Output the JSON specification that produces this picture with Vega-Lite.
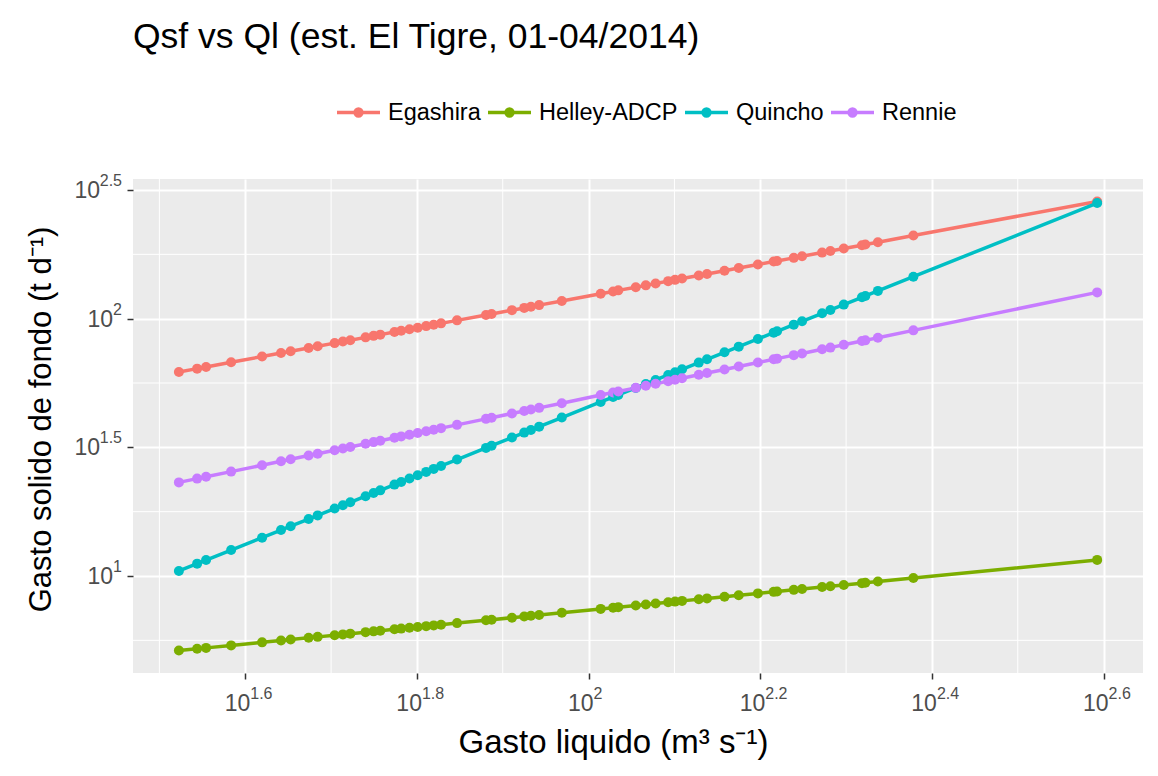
{
  "$schema": "https://vega.github.io/schema/vega-lite/v6.json",
  "width": 1010,
  "height": 494,
  "autosize": {"type": "none"},
  "padding": {"left": 133, "top": 179, "right": 15, "bottom": 103},
  "background": "white",
  "config": {
    "font": "Liberation Sans",
    "view": {"fill": "#EBEBEB", "stroke": null},
    "axis": {
      "domain": false,
      "labels": false,
      "ticks": true,
      "tickColor": "#333333",
      "tickSize": 6,
      "tickWidth": 1.5,
      "grid": true,
      "gridColor": "#FFFFFF",
      "gridWidth": 2,
      "titleFont": "Liberation Sans",
      "titleFontWeight": "normal",
      "titleColor": "#000000"
    },
    "axisX": {"titleFontSize": 33, "titlePadding": 47, "titleX": 480},
    "axisY": {"titleFontSize": 31, "titlePadding": 69, "titleY": 240}
  },
  "title": {
    "text": "Qsf vs Ql (est. El Tigre, 01-04/2014)",
    "anchor": "start",
    "frame": "group",
    "font": "Liberation Sans",
    "fontSize": 35.5,
    "fontWeight": "normal",
    "color": "#000000",
    "offset": 34
  },
  "datasets": {
    "serie": [
      {"Ql": 33.32, "Egashira": 62.03, "Helley-ADCP": 5.132, "Quincho": 10.46, "Rennie": 23.11},
      {"Ql": 34.99, "Egashira": 63.94, "Helley-ADCP": 5.215, "Quincho": 11.17, "Rennie": 23.90},
      {"Ql": 35.84, "Egashira": 64.89, "Helley-ADCP": 5.256, "Quincho": 11.53, "Rennie": 24.30},
      {"Ql": 38.33, "Egashira": 67.66, "Helley-ADCP": 5.374, "Quincho": 12.61, "Rennie": 25.45},
      {"Ql": 41.65, "Egashira": 71.22, "Helley-ADCP": 5.523, "Quincho": 14.09, "Rennie": 26.95},
      {"Ql": 43.82, "Egashira": 73.50, "Helley-ADCP": 5.616, "Quincho": 15.08, "Rennie": 27.91},
      {"Ql": 44.97, "Egashira": 74.70, "Helley-ADCP": 5.665, "Quincho": 15.61, "Rennie": 28.42},
      {"Ql": 47.19, "Egashira": 76.95, "Helley-ADCP": 5.754, "Quincho": 16.65, "Rennie": 29.38},
      {"Ql": 48.35, "Egashira": 78.11, "Helley-ADCP": 5.800, "Quincho": 17.20, "Rennie": 29.87},
      {"Ql": 50.60, "Egashira": 80.35, "Helley-ADCP": 5.888, "Quincho": 18.28, "Rennie": 30.83},
      {"Ql": 51.73, "Egashira": 81.45, "Helley-ADCP": 5.931, "Quincho": 18.83, "Rennie": 31.31},
      {"Ql": 52.77, "Egashira": 82.47, "Helley-ADCP": 5.970, "Quincho": 19.33, "Rennie": 31.74},
      {"Ql": 54.98, "Egashira": 84.59, "Helley-ADCP": 6.051, "Quincho": 20.42, "Rennie": 32.65},
      {"Ql": 56.17, "Egashira": 85.73, "Helley-ADCP": 6.093, "Quincho": 21.01, "Rennie": 33.13},
      {"Ql": 57.19, "Egashira": 86.68, "Helley-ADCP": 6.130, "Quincho": 21.52, "Rennie": 33.55},
      {"Ql": 59.41, "Egashira": 88.76, "Helley-ADCP": 6.209, "Quincho": 22.65, "Rennie": 34.44},
      {"Ql": 60.49, "Egashira": 89.74, "Helley-ADCP": 6.245, "Quincho": 23.20, "Rennie": 34.87},
      {"Ql": 61.85, "Egashira": 90.99, "Helley-ADCP": 6.291, "Quincho": 23.91, "Rennie": 35.41},
      {"Ql": 63.23, "Egashira": 92.26, "Helley-ADCP": 6.338, "Quincho": 24.62, "Rennie": 35.95},
      {"Ql": 64.68, "Egashira": 93.54, "Helley-ADCP": 6.385, "Quincho": 25.38, "Rennie": 36.52},
      {"Ql": 66.00, "Egashira": 94.73, "Helley-ADCP": 6.427, "Quincho": 26.07, "Rennie": 37.03},
      {"Ql": 67.32, "Egashira": 95.89, "Helley-ADCP": 6.469, "Quincho": 26.77, "Rennie": 37.54},
      {"Ql": 70.27, "Egashira": 98.50, "Helley-ADCP": 6.561, "Quincho": 28.35, "Rennie": 38.67},
      {"Ql": 75.94, "Egashira": 103.4, "Helley-ADCP": 6.731, "Quincho": 31.46, "Rennie": 40.80},
      {"Ql": 77.09, "Egashira": 104.3, "Helley-ADCP": 6.764, "Quincho": 32.09, "Rennie": 41.22},
      {"Ql": 81.42, "Egashira": 107.9, "Helley-ADCP": 6.887, "Quincho": 34.52, "Rennie": 42.80},
      {"Ql": 84.14, "Egashira": 110.1, "Helley-ADCP": 6.962, "Quincho": 36.07, "Rennie": 43.79},
      {"Ql": 85.67, "Egashira": 111.3, "Helley-ADCP": 7.004, "Quincho": 36.95, "Rennie": 44.34},
      {"Ql": 87.58, "Egashira": 112.9, "Helley-ADCP": 7.056, "Quincho": 38.05, "Rennie": 45.01},
      {"Ql": 93.07, "Egashira": 117.2, "Helley-ADCP": 7.198, "Quincho": 41.28, "Rennie": 46.94},
      {"Ql": 103.3, "Egashira": 125.0, "Helley-ADCP": 7.449, "Quincho": 47.47, "Rennie": 50.47},
      {"Ql": 106.8, "Egashira": 127.6, "Helley-ADCP": 7.530, "Quincho": 49.60, "Rennie": 51.63},
      {"Ql": 108.3, "Egashira": 128.8, "Helley-ADCP": 7.567, "Quincho": 50.56, "Rennie": 52.13},
      {"Ql": 113.5, "Egashira": 132.5, "Helley-ADCP": 7.683, "Quincho": 53.80, "Rennie": 53.84},
      {"Ql": 116.6, "Egashira": 134.7, "Helley-ADCP": 7.750, "Quincho": 55.76, "Rennie": 54.84},
      {"Ql": 119.7, "Egashira": 137.0, "Helley-ADCP": 7.818, "Quincho": 57.78, "Rennie": 55.86},
      {"Ql": 123.8, "Egashira": 139.9, "Helley-ADCP": 7.907, "Quincho": 60.45, "Rennie": 57.17},
      {"Ql": 126.1, "Egashira": 141.5, "Helley-ADCP": 7.952, "Quincho": 61.93, "Rennie": 57.89},
      {"Ql": 128.5, "Egashira": 143.2, "Helley-ADCP": 8.004, "Quincho": 63.56, "Rennie": 58.68},
      {"Ql": 134.4, "Egashira": 147.2, "Helley-ADCP": 8.123, "Quincho": 67.48, "Rennie": 60.52},
      {"Ql": 137.4, "Egashira": 149.2, "Helley-ADCP": 8.183, "Quincho": 69.50, "Rennie": 61.45},
      {"Ql": 144.0, "Egashira": 153.6, "Helley-ADCP": 8.311, "Quincho": 73.98, "Rennie": 63.46},
      {"Ql": 149.6, "Egashira": 157.3, "Helley-ADCP": 8.414, "Quincho": 77.86, "Rennie": 65.16},
      {"Ql": 157.5, "Egashira": 162.4, "Helley-ADCP": 8.559, "Quincho": 83.41, "Rennie": 67.53},
      {"Ql": 164.3, "Egashira": 166.7, "Helley-ADCP": 8.678, "Quincho": 88.25, "Rennie": 69.51},
      {"Ql": 165.8, "Egashira": 167.6, "Helley-ADCP": 8.704, "Quincho": 89.29, "Rennie": 69.93},
      {"Ql": 173.4, "Egashira": 172.3, "Helley-ADCP": 8.833, "Quincho": 94.80, "Rennie": 72.14},
      {"Ql": 177.3, "Egashira": 174.7, "Helley-ADCP": 8.899, "Quincho": 97.65, "Rennie": 73.24},
      {"Ql": 187.1, "Egashira": 180.6, "Helley-ADCP": 9.056, "Quincho": 104.9, "Rennie": 76.01},
      {"Ql": 191.3, "Egashira": 183.2, "Helley-ADCP": 9.123, "Quincho": 108.1, "Rennie": 77.19},
      {"Ql": 198.3, "Egashira": 187.3, "Helley-ADCP": 9.231, "Quincho": 113.4, "Rennie": 79.12},
      {"Ql": 208.2, "Egashira": 193.0, "Helley-ADCP": 9.381, "Quincho": 121.1, "Rennie": 81.85},
      {"Ql": 210.1, "Egashira": 194.1, "Helley-ADCP": 9.408, "Quincho": 122.5, "Rennie": 82.36},
      {"Ql": 217.3, "Egashira": 198.2, "Helley-ADCP": 9.515, "Quincho": 128.2, "Rennie": 84.30},
      {"Ql": 239.0, "Egashira": 210.3, "Helley-ADCP": 9.817, "Quincho": 145.6, "Rennie": 90.05},
      {"Ql": 391.3, "Egashira": 285.4, "Helley-ADCP": 11.55, "Quincho": 281.3, "Rennie": 126.5}
    ],
    "xticks": [
      {"v": 39.81, "e": "1.6"},
      {"v": 63.10, "e": "1.8"},
      {"v": 100, "e": "2"},
      {"v": 158.49, "e": "2.2"},
      {"v": 251.19, "e": "2.4"},
      {"v": 398.11, "e": "2.6"}
    ],
    "yticks": [
      {"v": 10, "e": "1"},
      {"v": 31.62, "e": "1.5"},
      {"v": 100, "e": "2"},
      {"v": 316.23, "e": "2.5"}
    ],
    "xminor": [{"v": 31.62}, {"v": 50.12}, {"v": 79.43}, {"v": 125.89}, {"v": 199.53}, {"v": 316.23}],
    "yminor": [{"v": 5.623}, {"v": 17.78}, {"v": 56.23}, {"v": 177.83}]
  },
  "layer": [
    {
      "data": {"name": "xminor"},
      "mark": {"type": "rule", "color": "#FFFFFF", "strokeWidth": 1},
      "encoding": {
        "x": {
          "field": "v", "type": "quantitative",
          "scale": {"type": "log", "domain": [29.46, 442.5], "nice": false},
          "axis": {"values": [39.81, 63.10, 100, 158.49, 251.19, 398.11], "title": "Gasto liquido (m³ s⁻¹)"}
        }
      }
    },
    {
      "data": {"name": "yminor"},
      "mark": {"type": "rule", "color": "#FFFFFF", "strokeWidth": 1},
      "encoding": {
        "y": {
          "field": "v", "type": "quantitative",
          "scale": {"type": "log", "domain": [4.198, 348.9], "nice": false},
          "axis": {"values": [10, 31.62, 100, 316.23], "title": "Gasto solido de fondo (t d⁻¹)"}
        }
      }
    },
    {
      "data": {"name": "serie"},
      "transform": [{"fold": ["Egashira", "Helley-ADCP", "Quincho", "Rennie"], "as": ["modelo", "Qsf"]}],
      "mark": {"type": "line", "strokeWidth": 3.5},
      "encoding": {
        "x": {
          "field": "Ql", "type": "quantitative",
          "scale": {"type": "log", "domain": [29.46, 442.5], "nice": false},
          "axis": {"values": [39.81, 63.10, 100, 158.49, 251.19, 398.11], "title": "Gasto liquido (m³ s⁻¹)"}
        },
        "y": {
          "field": "Qsf", "type": "quantitative",
          "scale": {"type": "log", "domain": [4.198, 348.9], "nice": false},
          "axis": {"values": [10, 31.62, 100, 316.23], "title": "Gasto solido de fondo (t d⁻¹)"}
        },
        "color": {
          "field": "modelo", "type": "nominal",
          "scale": {"domain": ["Egashira", "Helley-ADCP", "Quincho", "Rennie"], "range": ["#F8766D", "#7CAE00", "#00BFC4", "#C77CFF"]},
          "legend": {
            "orient": "none",
            "legendX": 202,
            "legendY": -90,
            "direction": "horizontal",
            "title": null,
            "symbolType": "M-1,0H1M0.16,0A0.16,0.16,0,1,1,-0.16,0A0.16,0.16,0,1,1,0.16,0Z",
            "symbolSize": 1849,
            "symbolStrokeWidth": 3.5,
            "labelFont": "Liberation Sans",
            "labelFontSize": 23.5,
            "labelColor": "#000000",
            "labelOffset": 6,
            "columnPadding": 0
          }
        }
      }
    },
    {
      "data": {"name": "serie"},
      "transform": [{"fold": ["Egashira", "Helley-ADCP", "Quincho", "Rennie"], "as": ["modelo", "Qsf"]}],
      "mark": {"type": "point", "filled": true, "size": 100, "opacity": 1},
      "encoding": {
        "x": {
          "field": "Ql", "type": "quantitative",
          "scale": {"type": "log", "domain": [29.46, 442.5], "nice": false},
          "axis": {"values": [39.81, 63.10, 100, 158.49, 251.19, 398.11], "title": "Gasto liquido (m³ s⁻¹)"}
        },
        "y": {
          "field": "Qsf", "type": "quantitative",
          "scale": {"type": "log", "domain": [4.198, 348.9], "nice": false},
          "axis": {"values": [10, 31.62, 100, 316.23], "title": "Gasto solido de fondo (t d⁻¹)"}
        },
        "color": {"field": "modelo", "type": "nominal"}
      }
    },
    {
      "data": {"name": "xticks"},
      "mark": {"type": "text", "text": "10", "align": "right", "baseline": "middle", "dx": 5, "dy": 31, "fontSize": 23, "color": "#4D4D4D"},
      "encoding": {
        "x": {
          "field": "v", "type": "quantitative",
          "scale": {"type": "log", "domain": [29.46, 442.5], "nice": false},
          "axis": {"values": [39.81, 63.10, 100, 158.49, 251.19, 398.11], "title": "Gasto liquido (m³ s⁻¹)"}
        },
        "y": {
          "datum": 4.198, "type": "quantitative",
          "scale": {"type": "log", "domain": [4.198, 348.9], "nice": false},
          "axis": {"values": [10, 31.62, 100, 316.23], "title": "Gasto solido de fondo (t d⁻¹)"}
        }
      }
    },
    {
      "data": {"name": "xticks"},
      "mark": {"type": "text", "align": "left", "baseline": "middle", "dx": 5, "dy": 21, "fontSize": 16, "color": "#4D4D4D"},
      "encoding": {
        "x": {
          "field": "v", "type": "quantitative",
          "scale": {"type": "log", "domain": [29.46, 442.5], "nice": false},
          "axis": {"values": [39.81, 63.10, 100, 158.49, 251.19, 398.11], "title": "Gasto liquido (m³ s⁻¹)"}
        },
        "y": {
          "datum": 4.198, "type": "quantitative",
          "scale": {"type": "log", "domain": [4.198, 348.9], "nice": false},
          "axis": {"values": [10, 31.62, 100, 316.23], "title": "Gasto solido de fondo (t d⁻¹)"}
        },
        "text": {"field": "e"}
      }
    },
    {
      "data": {"name": "yticks"},
      "transform": [{"filter": "length(datum.e) > 1"}],
      "mark": {"type": "text", "text": "10", "align": "right", "baseline": "middle", "dx": -33, "dy": 1, "fontSize": 23, "color": "#4D4D4D"},
      "encoding": {
        "x": {
          "datum": 29.46, "type": "quantitative",
          "scale": {"type": "log", "domain": [29.46, 442.5], "nice": false},
          "axis": {"values": [39.81, 63.10, 100, 158.49, 251.19, 398.11], "title": "Gasto liquido (m³ s⁻¹)"}
        },
        "y": {
          "field": "v", "type": "quantitative",
          "scale": {"type": "log", "domain": [4.198, 348.9], "nice": false},
          "axis": {"values": [10, 31.62, 100, 316.23], "title": "Gasto solido de fondo (t d⁻¹)"}
        }
      }
    },
    {
      "data": {"name": "yticks"},
      "transform": [{"filter": "length(datum.e) == 1"}],
      "mark": {"type": "text", "text": "10", "align": "right", "baseline": "middle", "dx": -20, "dy": 1, "fontSize": 23, "color": "#4D4D4D"},
      "encoding": {
        "x": {
          "datum": 29.46, "type": "quantitative",
          "scale": {"type": "log", "domain": [29.46, 442.5], "nice": false},
          "axis": {"values": [39.81, 63.10, 100, 158.49, 251.19, 398.11], "title": "Gasto liquido (m³ s⁻¹)"}
        },
        "y": {
          "field": "v", "type": "quantitative",
          "scale": {"type": "log", "domain": [4.198, 348.9], "nice": false},
          "axis": {"values": [10, 31.62, 100, 316.23], "title": "Gasto solido de fondo (t d⁻¹)"}
        }
      }
    },
    {
      "data": {"name": "yticks"},
      "mark": {"type": "text", "align": "right", "baseline": "middle", "dx": -11, "dy": -9, "fontSize": 16, "color": "#4D4D4D"},
      "encoding": {
        "x": {
          "datum": 29.46, "type": "quantitative",
          "scale": {"type": "log", "domain": [29.46, 442.5], "nice": false},
          "axis": {"values": [39.81, 63.10, 100, 158.49, 251.19, 398.11], "title": "Gasto liquido (m³ s⁻¹)"}
        },
        "y": {
          "field": "v", "type": "quantitative",
          "scale": {"type": "log", "domain": [4.198, 348.9], "nice": false},
          "axis": {"values": [10, 31.62, 100, 316.23], "title": "Gasto solido de fondo (t d⁻¹)"}
        },
        "text": {"field": "e"}
      }
    }
  ]
}
